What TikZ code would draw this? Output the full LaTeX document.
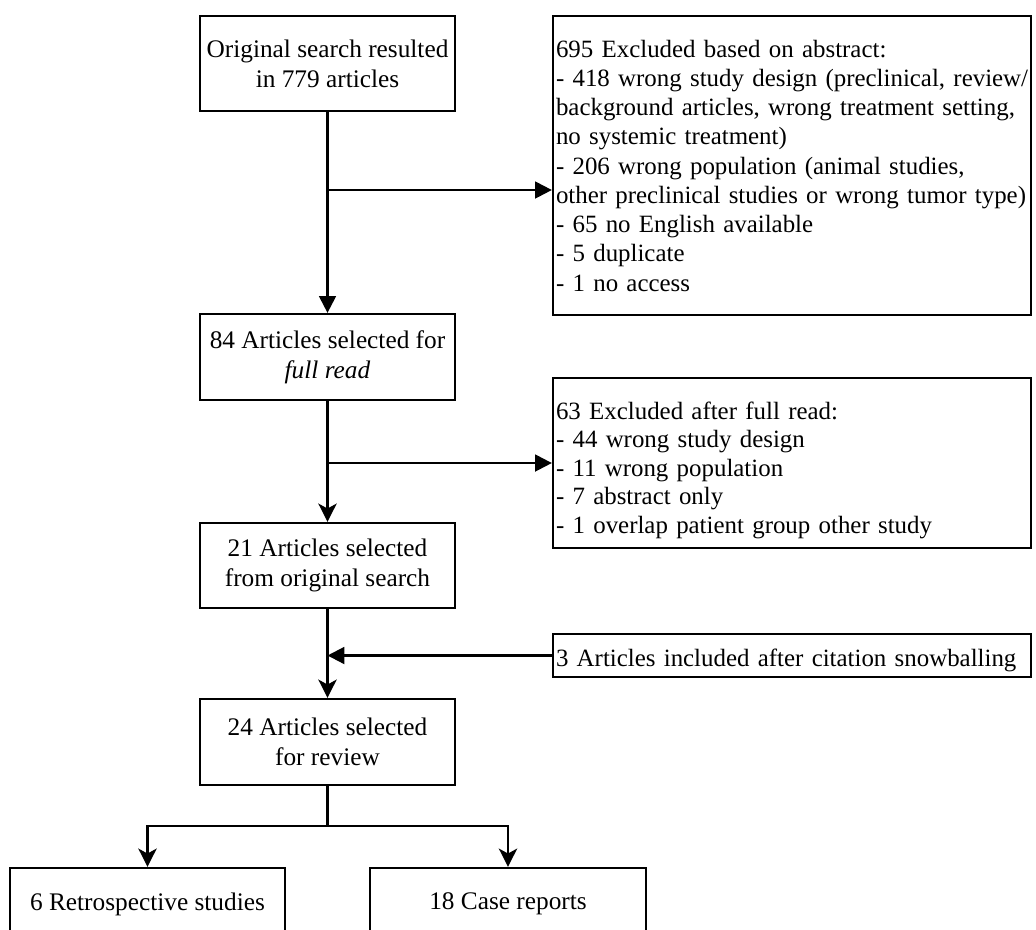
\documentclass[tikz,border=0pt]{standalone}
\usepackage{fontspec}
\setmainfont{Liberation Serif}
\usetikzlibrary{arrows.meta}
\newlength\pxl
\setlength\pxl{0.025cm}
\newcommand\oneline[1]{\mbox{#1}}
\begin{document}
\begin{tikzpicture}[x=0.025cm,y=-0.025cm,line width=1.6pt,
  txt/.style={font=\fontsize{18}{21.3}\selectfont},
  cbox/.style={draw,txt,align=center,inner sep=0pt,minimum width=255\pxl},
  lbox/.style={draw,align=left,inner ysep=0pt,inner xsep=3\pxl,text width=472\pxl},
  tri/.style={-{Triangle[length=12pt,width=12pt]}},
  stl/.style={-{Stealth[length=13pt,width=13pt,inset=3.5pt]}}]
\useasboundingbox (0,0) rectangle (1036,929);
\clip (0,0) rectangle (1036,929);
\node[cbox,minimum height=95\pxl] (orig) at (327.5,63.5) {Original search resulted\\in 779 articles};
\node[lbox,font=\fontsize{17.7}{20.8}\selectfont,minimum height=299\pxl] (ex1) at (792,165.5) {\oneline{695 Excluded based on abstract:}\\
\oneline{- 418 wrong study design (preclinical, review/}\\
\oneline{background articles, wrong treatment setting,}\\
\oneline{no systemic treatment)}\\
\oneline{- 206 wrong population (animal studies,}\\
\oneline{other preclinical studies or wrong tumor type)}\\
\oneline{- 65 no English available}\\
\oneline{- 5 duplicate}\\
\oneline{- 1 no access}};
\node[cbox,minimum height=86\pxl] (full) at (327.5,357) {84 Articles selected for\\\textit{full read}};
\node[lbox,font=\fontsize{17.7}{20.3}\selectfont,minimum height=170\pxl] (ex2) at (792,463) {\rule{0pt}{22.7pt}\oneline{63 Excluded after full read:}\\
\oneline{- 44 wrong study design}\\
\oneline{- 11 wrong population}\\
\oneline{- 7 abstract only}\\
\oneline{- 1 overlap patient group other study}};
\node[cbox,minimum height=85\pxl] (sel) at (327.5,565.5) {21 Articles selected\\from original search};
\node[lbox,font=\fontsize{17.7}{21.3}\selectfont,minimum height=43\pxl] (snow) at (792,655.5) {\rule{0pt}{19pt}\oneline{3 Articles included after citation snowballing}};
\node[cbox,minimum height=86\pxl] (rev) at (327.5,742) {24 Articles selected\\for review};
\node[cbox,minimum width=275\pxl,minimum height=72\pxl] (retro) at (147.5,904) {6 Retrospective studies};
\node[cbox,minimum width=276\pxl,minimum height=72\pxl] (case) at (508,904) {18 Case reports};
\coordinate (b1) at (327.5,190);
\coordinate (split) at (327.5,826);
\draw[tri] (orig.south) -- (full.north);
\draw[tri] (b1) -- (b1 -| ex1.west);
\draw[stl] (full.south) -- (sel.north);
\draw[tri] (ex2.west -| full.south) -- (ex2.west);
\draw[stl] (sel.south) -- (rev.north);
\draw[tri] (snow.west) -- (snow.west -| sel.south);
\draw (rev.south) -- (split);
\draw[stl] (split) -| (retro.north);
\draw[stl] (split) -| (case.north);
\end{tikzpicture}
\end{document}
